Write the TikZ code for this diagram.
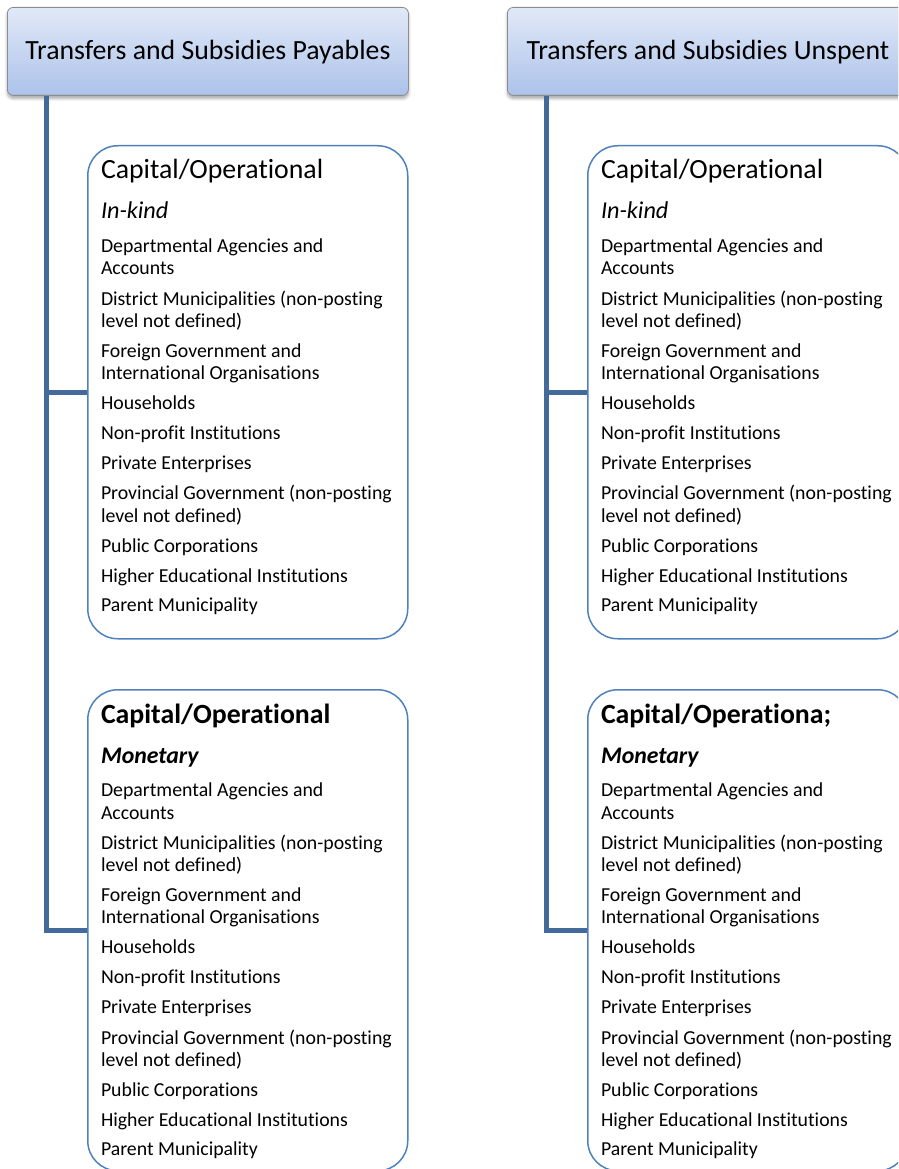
\documentclass[tikz,border=0pt]{standalone}
\usepackage{fontspec}
\setmainfont{Carlito}[Ligatures={NoCommon}]
\usetikzlibrary{shadows.blur}
\definecolor{conncol}{RGB}{68,105,155}
\definecolor{boxcol}{RGB}{79,129,189}
\definecolor{hdtop}{RGB}{225,233,247}
\definecolor{hdbot}{RGB}{172,194,234}
\definecolor{hdborder}{RGB}{140,140,140}
\tikzset{
  header/.style={rounded corners=6pt, draw=hdborder, line width=0.8pt,
    top color=hdtop, bottom color=hdbot, minimum width=401pt, minimum height=88pt,
    anchor=north west, inner sep=0pt, font=\fontsize{27.8}{32}\selectfont,
    text height=20pt, text depth=4pt,
    blur shadow={shadow xshift=0pt, shadow yshift=-3pt, shadow blur steps=6,
      shadow blur radius=3pt, shadow opacity=35}},
  group/.style={rounded corners=30pt, draw=boxcol, line width=1.5pt,
    minimum width=320pt, anchor=north west, inner sep=0pt},
  conn/.style={draw=conncol, line width=5.5pt},
  txt/.style={anchor=base west, inner sep=0pt, outer sep=0pt},
  itemtxt/.style={txt, font=\fontsize{19.8}{23}\selectfont},
  headtxt/.style={txt, font=\fontsize{27.8}{32}\selectfont},
  boldhead/.style={txt, font=\fontsize{27.8}{32}\selectfont\bfseries},
  subtxt/.style={txt, font=\fontsize{24.2}{28}\selectfont\itshape},
  boldsub/.style={txt, font=\fontsize{23.8}{28}\selectfont\bfseries\itshape},
}
\begin{document}
\begin{tikzpicture}[x=1pt,y=-1pt]
\useasboundingbox (0,0) rectangle (898,1169);
\clip (0,0) rectangle (898,1169);

% headers
\node[header] (H0) at (7,7) {Transfers and Subsidies Payables};
\node[header] (H1) at (507,7) {Transfers and Subsidies Unspent};

% group boxes
\node[group, minimum height=493pt] (B0a) at (87,145) {};
\node[group, minimum height=481pt] (B0b) at (87,689) {};
\node[group, minimum height=493pt] (B1a) at (587,145) {};
\node[group, minimum height=481pt] (B1b) at (587,689) {};

% connectors
\draw[conn] ([xshift=39.5pt]H0.south west) |- (B0b.west);
\draw[conn] ([xshift=39.5pt]H0.south west |- B0a.west) -- (B0a.west);
\draw[conn] ([xshift=39.5pt]H1.south west) |- (B1b.west);
\draw[conn] ([xshift=39.5pt]H1.south west |- B1a.west) -- (B1a.west);

% headings
\node[headtxt] (h0a) at (101,178.5) {Capital/Operational};
\node[subtxt] (s0a) at (101,218.5) {In-kind};
\node[boldhead] (h0b) at (101,723.5) {Capital/Operational};
\node[boldsub] (s0b) at (101,763) {Monetary};
\node[headtxt] (h1a) at (601,178.5) {Capital/Operational};
\node[subtxt] (s1a) at (601,218.5) {In-kind};
\node[boldhead] (h1b) at (601,723.5) {Capital/Operationa;};
\node[boldsub] (s1b) at (601,763) {Monetary};

% item lists
\foreach \dx/\c in {0/0,500/1}{
  \foreach \dy/\b in {0/a,544.5/b}{
    \foreach \yy/\txt [count=\i] in {
      252/{Departmental Agencies and},
      274.5/{Accounts},
      305/{District Municipalities (non-posting},
      327/{level not defined)},
      357/{Foreign Government and},
      379/{International Organisations},
      409/{Households},
      439/{Non-profit Institutions},
      469/{Private Enterprises},
      499.5/{Provincial Government (non-posting},
      522/{level not defined)},
      552/{Public Corporations},
      582/{Higher Educational Institutions},
      611/{Parent Municipality}}{
      \node[itemtxt] (t\c\b\i) at (101+\dx,\yy+\dy) {\txt};
    }
  }
}
\end{tikzpicture}
\end{document}
